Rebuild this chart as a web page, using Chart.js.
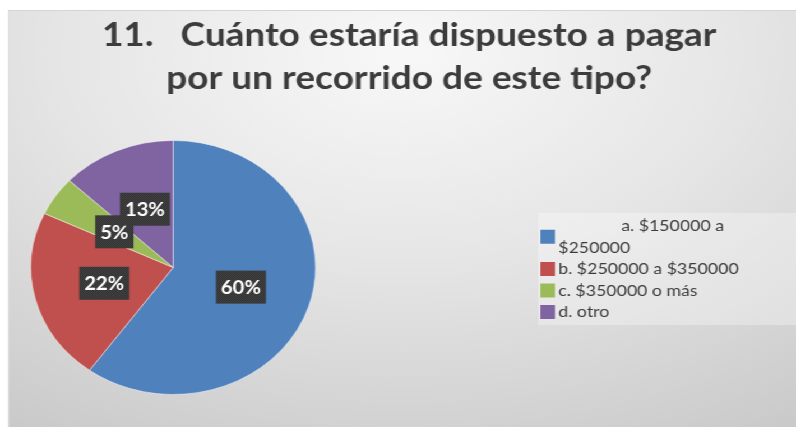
<!DOCTYPE html>
<html lang="es">
<head>
<meta charset="utf-8">
<title>Cuánto estaría dispuesto a pagar</title>
<script src="https://cdn.jsdelivr.net/npm/chart.js@4.4.1/dist/chart.umd.min.js"></script>
<style>
  html, body { margin: 0; padding: 0; background: #fff; }
  body { width: 796px; height: 431px; overflow: hidden; position: relative; }
  /* the source picture is stretched ~12% sideways: draw at 710px wide, then stretch */
  #stage { position: absolute; left: 0; top: 0; width: 710px; height: 431px;
           transform: scaleX(1.1211); transform-origin: 0 0; }
  #panel { position: absolute; left: 7px; top: 10px; width: 703px; height: 417px;
           background: radial-gradient(ellipse 95% 110% at 50% 10%, #f8f8f8 0%, #e6e6e6 45%, #c8c8c8 100%);
           box-shadow: inset 0 1px 0 #d4d4d4, inset 1px 0 0 #e0e0e0; }
  canvas { display: block; }
</style>
</head>
<body>
<div id="stage">
  <div id="panel"><canvas id="payChart" width="703" height="417"></canvas></div>
</div>
<script>
/* --- Data --- */
const categories = [['a. $150000 a', '$250000'], 'b. $250000 a $350000', 'c. $350000 o más', 'd. otro'];
const percents = [60, 22, 5, 13];
const sliceColors = ['#4F81BD', '#C0504D', '#9BBB59', '#8064A2'];
const titleLines = ['11.   Cuánto estaría dispuesto a pagar', 'por un recorrido de este tipo?'];

/* --- Look --- */
const TEXT_DARK = '#3c3c3c';
const TITLE = { font: 'bold 33px Lato', x: 358, y: 35.5, lineH: 43 };
const LEGEND = { boxX: 473, boxY: 203, boxW: 230, boxH: 112, swatchX: 475, textX: 491,
                 wrapCenterX: 593, firstY: 216, lineH: 21.5, font: '15.8px Lato' };

function makeDotPattern(ctx) {
  const c = document.createElement('canvas');
  c.width = 2; c.height = 2;
  const p = c.getContext('2d');
  p.fillStyle = '#303030'; p.fillRect(0, 0, 2, 2);
  p.fillStyle = '#454545'; p.fillRect(0, 0, 1, 1); p.fillRect(1, 1, 1, 1);
  return ctx.createPattern(c, 'repeat');
}

/* --- Title drawn by hand so it can sit off-centre from the pie area --- */
const titlePlugin = {
  id: 'twoLineTitle',
  afterDraw(chart) {
    const ctx = chart.ctx;
    ctx.save();
    ctx.font = TITLE.font;
    ctx.fillStyle = TEXT_DARK;
    ctx.textAlign = 'center';
    ctx.textBaseline = 'alphabetic';
    titleLines.forEach((line, i) => ctx.fillText(line, TITLE.x, TITLE.y + i * TITLE.lineH));
    ctx.restore();
  }
};

/* --- Percent boxes at half radius --- */
const sliceLabelPlugin = {
  id: 'sliceLabels',
  afterDatasetsDraw(chart) {
    const ctx = chart.ctx;
    const meta = chart.getDatasetMeta(0);
    const pattern = makeDotPattern(ctx);
    ctx.save();
    ctx.font = 'bold 18px Lato';
    ctx.textAlign = 'center';
    ctx.textBaseline = 'middle';
    meta.data.forEach((arc, i) => {
      const { x, y, startAngle, endAngle, outerRadius } =
        arc.getProps(['x', 'y', 'startAngle', 'endAngle', 'outerRadius'], true);
      const mid = (startAngle + endAngle) / 2;
      const cx = x + Math.cos(mid) * outerRadius * 0.5;
      const cy = y + Math.sin(mid) * outerRadius * 0.5;
      const text = percents[i] + '%';
      const w = ctx.measureText(text).width + 9;
      const h = 33;
      ctx.fillStyle = pattern;
      ctx.fillRect(cx - w / 2, cy - h / 2, w, h);
      ctx.fillStyle = '#ffffff';
      ctx.fillText(text, cx, cy + 1);
    });
    ctx.restore();
  }
};

/* --- Legend on the right, first entry wrapped like the original --- */
const legendPlugin = {
  id: 'sideLegend',
  afterDraw(chart) {
    const ctx = chart.ctx;
    const colors = chart.data.datasets[0].backgroundColor;
    ctx.save();
    ctx.fillStyle = 'rgba(255, 255, 255, 0.3)';
    ctx.fillRect(LEGEND.boxX, LEGEND.boxY, LEGEND.boxW, LEGEND.boxH);
    ctx.font = LEGEND.font;
    ctx.textBaseline = 'middle';
    let y = LEGEND.firstY;
    chart.data.labels.forEach((label, i) => {
      const lines = Array.isArray(label) ? label : [label];
      const midY = y + (lines.length - 1) * LEGEND.lineH / 2;
      ctx.fillStyle = colors[i];
      ctx.fillRect(LEGEND.swatchX, midY - 7, 13, 14);
      ctx.fillStyle = TEXT_DARK;
      lines.forEach((line, j) => {
        if (lines.length > 1 && j === 0) {
          ctx.textAlign = 'center';
          ctx.fillText(line, LEGEND.wrapCenterX, y);
        } else {
          ctx.textAlign = 'left';
          ctx.fillText(line, LEGEND.textX, y + j * LEGEND.lineH);
        }
      });
      y += lines.length * LEGEND.lineH;
    });
    ctx.restore();
  }
};

new Chart(document.getElementById('payChart'), {
  type: 'pie',
  data: {
    labels: categories,
    datasets: [{
      data: percents,
      backgroundColor: sliceColors,
      borderColor: 'rgba(255, 255, 255, 0.45)',
      borderWidth: 1,
      hoverOffset: 0
    }]
  },
  options: {
    responsive: false,
    animation: false,
    events: [],
    layout: { padding: { left: 20, right: 428, top: 130, bottom: 32 } },
    plugins: {
      legend: { display: false },
      title: { display: false },
      tooltip: { enabled: false }
    }
  },
  plugins: [titlePlugin, sliceLabelPlugin, legendPlugin]
});
</script>
</body>
</html>
